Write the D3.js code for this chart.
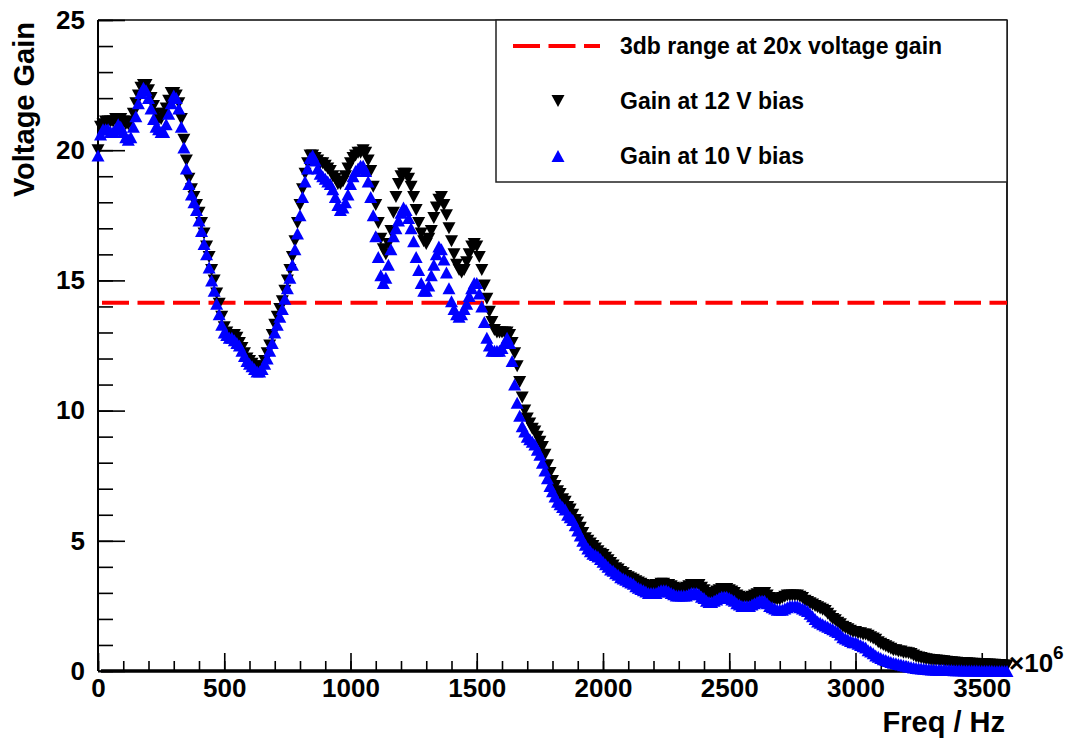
<!DOCTYPE html>
<html>
<head>
<meta charset="utf-8">
<script src="https://cdn.jsdelivr.net/npm/d3@7"></script>
<style>
  html, body { margin: 0; padding: 0; background: #fff; }
  svg { display: block; }
  text { font-family: "Liberation Sans", Arial, Helvetica, sans-serif; font-weight: bold; fill: #000; }
</style>
</head>
<body>
<svg id="chart" width="1075" height="740"></svg>
<script>
// Frequency sweep points (MHz, axis shown as ×10^6 Hz)
const freqMHz = [
  0, 10, 20, 30, 40, 50, 60, 70, 80, 90, 100, 110, 120, 130, 140, 150, 160, 170, 180, 190,
  200, 210, 220, 230, 240, 250, 260, 270, 280, 290, 300, 310, 320, 330, 340, 350, 360, 370, 380, 390,
  400, 410, 420, 430, 440, 450, 460, 470, 480, 490, 500, 510, 520, 530, 540, 550, 560, 570, 580, 590,
  600, 610, 620, 630, 640, 650, 660, 670, 680, 690, 700, 710, 720, 730, 740, 750, 760, 770, 780, 790,
  800, 810, 820, 830, 840, 850, 860, 870, 880, 890, 900, 910, 920, 930, 940, 950, 960, 970, 980, 990,
  1000, 1010, 1020, 1030, 1040, 1050, 1060, 1070, 1080, 1090, 1100, 1110, 1120, 1130, 1140, 1150, 1160, 1170, 1180, 1190,
  1200, 1210, 1220, 1230, 1240, 1250, 1260, 1270, 1280, 1290, 1300, 1310, 1320, 1330, 1340, 1350, 1360, 1370, 1380, 1390,
  1400, 1410, 1420, 1430, 1440, 1450, 1460, 1470, 1480, 1490, 1500, 1510, 1520, 1530, 1540, 1550, 1560, 1570, 1580, 1590,
  1600, 1610, 1620, 1630, 1640, 1650, 1660, 1670, 1680, 1690, 1700, 1710, 1720, 1730, 1740, 1750, 1760, 1770, 1780, 1790,
  1800, 1810, 1820, 1830, 1840, 1850, 1860, 1870, 1880, 1890, 1900, 1910, 1920, 1930, 1940, 1950, 1960, 1970, 1980, 1990,
  2000, 2010, 2020, 2030, 2040, 2050, 2060, 2070, 2080, 2090, 2100, 2110, 2120, 2130, 2140, 2150, 2160, 2170, 2180, 2190,
  2200, 2210, 2220, 2230, 2240, 2250, 2260, 2270, 2280, 2290, 2300, 2310, 2320, 2330, 2340, 2350, 2360, 2370, 2380, 2390,
  2400, 2410, 2420, 2430, 2440, 2450, 2460, 2470, 2480, 2490, 2500, 2510, 2520, 2530, 2540, 2550, 2560, 2570, 2580, 2590,
  2600, 2610, 2620, 2630, 2640, 2650, 2660, 2670, 2680, 2690, 2700, 2710, 2720, 2730, 2740, 2750, 2760, 2770, 2780, 2790,
  2800, 2810, 2820, 2830, 2840, 2850, 2860, 2870, 2880, 2890, 2900, 2910, 2920, 2930, 2940, 2950, 2960, 2970, 2980, 2990,
  3000, 3010, 3020, 3030, 3040, 3050, 3060, 3070, 3080, 3090, 3100, 3110, 3120, 3130, 3140, 3150, 3160, 3170, 3180, 3190,
  3200, 3210, 3220, 3230, 3240, 3250, 3260, 3270, 3280, 3290, 3300, 3310, 3320, 3330, 3340, 3350, 3360, 3370, 3380, 3390,
  3400, 3410, 3420, 3430, 3440, 3450, 3460, 3470, 3480, 3490, 3500, 3510, 3520, 3530, 3540, 3550, 3560, 3570, 3580, 3590,
  3600
];

// Voltage gain with 12 V bias
const gain12V = [
  20.0, 20.9, 21.0, 21.1, 21.1, 21.1, 21.1, 21.2, 21.2, 21.2, 21.1, 21.0, 21.0, 21.1, 21.4, 21.8, 22.1, 22.4, 22.5, 22.5,
  22.3, 22.0, 21.7, 21.4, 21.2, 21.2, 21.4, 21.6, 21.9, 22.2, 22.2, 22.1, 21.8, 21.2, 20.4, 19.6, 18.9, 18.5, 18.2, 17.9,
  17.6, 17.2, 16.8, 16.3, 15.9, 15.4, 15.0, 14.5, 14.1, 13.6, 13.2, 13.0, 12.9, 12.9, 12.9, 12.8, 12.6, 12.4, 12.2, 12.0,
  11.9, 11.8, 11.7, 11.6, 11.6, 11.7, 11.9, 12.2, 12.5, 12.9, 13.3, 13.6, 13.9, 14.2, 14.6, 15.0, 15.4, 15.9, 16.5, 17.2,
  17.9, 18.5, 19.1, 19.5, 19.8, 19.8, 19.7, 19.6, 19.5, 19.5, 19.4, 19.3, 19.2, 19.0, 18.9, 18.7, 18.7, 18.8, 19.0, 19.3,
  19.5, 19.7, 19.8, 19.9, 19.9, 20.0, 19.9, 19.6, 19.2, 18.6, 17.9, 17.2, 16.6, 16.2, 16.0, 16.4, 16.9, 17.6, 18.2, 18.7,
  19.0, 19.1, 19.1, 18.9, 18.6, 18.2, 17.7, 17.2, 16.8, 16.5, 16.4, 16.6, 16.9, 17.4, 17.8, 18.1, 18.2, 17.9, 17.5, 17.0,
  16.5, 16.0, 15.6, 15.4, 15.3, 15.4, 15.7, 16.0, 16.3, 16.4, 16.3, 15.9, 15.4, 14.8, 14.3, 13.8, 13.4, 13.1, 13.0, 13.0,
  13.0, 13.0, 13.0, 12.9, 12.6, 12.2, 11.7, 11.1, 10.5, 10.0, 9.7, 9.5, 9.3, 9.2, 9.0, 8.8, 8.6, 8.3, 7.9, 7.6,
  7.3, 7.1, 6.9, 6.8, 6.6, 6.5, 6.3, 6.2, 6.0, 5.8, 5.7, 5.5, 5.3, 5.1, 5.0, 4.9, 4.8, 4.7, 4.6, 4.5,
  4.45, 4.35, 4.25, 4.15, 4.05, 3.95, 3.9, 3.8, 3.75, 3.65, 3.6, 3.55, 3.5, 3.45, 3.4, 3.35, 3.3, 3.25, 3.25, 3.25,
  3.25, 3.3, 3.3, 3.35, 3.35, 3.3, 3.3, 3.25, 3.2, 3.15, 3.15, 3.15, 3.15, 3.2, 3.25, 3.3, 3.3, 3.3, 3.3, 3.2,
  3.1, 3.0, 2.95, 2.95, 3.0, 3.05, 3.1, 3.15, 3.15, 3.15, 3.1, 3.05, 3.0, 2.9, 2.85, 2.8, 2.8, 2.8, 2.8, 2.85,
  2.9, 2.95, 3.0, 3.0, 3.0, 2.9, 2.8, 2.75, 2.75, 2.75, 2.75, 2.8, 2.85, 2.9, 2.9, 2.9, 2.9, 2.9, 2.85, 2.8,
  2.7, 2.65, 2.6, 2.55, 2.5, 2.45, 2.4, 2.35, 2.3, 2.2, 2.1, 2.0, 1.95, 1.85, 1.8, 1.7, 1.65, 1.6, 1.55, 1.5,
  1.5, 1.45, 1.45, 1.4, 1.4, 1.35, 1.3, 1.25, 1.2, 1.1, 1.05, 1.0, 0.95, 0.9, 0.85, 0.8, 0.8, 0.75, 0.75, 0.7,
  0.7, 0.68, 0.65, 0.6, 0.55, 0.52, 0.5, 0.47, 0.45, 0.43, 0.42, 0.41, 0.4, 0.39, 0.38, 0.37, 0.36, 0.35, 0.34, 0.33,
  0.32, 0.31, 0.3, 0.3, 0.3, 0.29, 0.28, 0.28, 0.27, 0.27, 0.26, 0.26, 0.25, 0.25, 0.24, 0.24, 0.23, 0.23, 0.22, 0.21,
  0.2
];

// Voltage gain with 10 V bias
const gain10V = [
  19.8, 20.6, 20.8, 20.8, 20.8, 20.7, 20.7, 20.8, 21.0, 20.9, 20.7, 20.5, 20.4, 20.5, 20.9, 21.3, 21.8, 22.2, 22.4, 22.3,
  22.0, 21.6, 21.2, 20.9, 20.8, 20.7, 20.7, 21.0, 21.4, 21.8, 22.1, 22.0, 21.6, 20.9, 20.1, 19.3, 18.7, 18.3, 18.0, 17.7,
  17.3, 16.9, 16.4, 16.0, 15.5, 15.0, 14.6, 14.1, 13.7, 13.3, 13.0, 12.9, 12.8, 12.8, 12.7, 12.6, 12.5, 12.3, 12.1, 11.9,
  11.8, 11.7, 11.6, 11.5, 11.5, 11.6, 11.8, 12.0, 12.3, 12.6, 13.0, 13.3, 13.6, 13.9, 14.3, 14.7, 15.1, 15.6, 16.2, 16.8,
  17.5, 18.2, 18.8, 19.3, 19.7, 19.8, 19.6, 19.3, 19.1, 19.0, 18.9, 18.8, 18.7, 18.5, 18.2, 17.9, 17.7, 17.8, 18.0, 18.3,
  18.7, 19.0, 19.2, 19.3, 19.4, 19.4, 19.2, 18.8, 18.2, 17.5, 16.7, 15.9, 15.2, 14.9, 15.1, 15.6, 16.2, 16.7, 17.0, 17.3,
  17.6, 17.8, 17.7, 17.4, 17.0, 16.5, 15.9, 15.4, 14.9, 14.6, 14.6, 14.8, 15.2, 15.6, 16.0, 16.3, 16.2, 15.8, 15.3, 14.7,
  14.2, 13.9, 13.7, 13.6, 13.7, 13.9, 14.1, 14.4, 14.7, 14.9, 14.9, 14.5, 14.0, 13.4, 12.8, 12.5, 12.3, 12.3, 12.3, 12.3,
  12.4, 12.6, 12.8, 12.6, 11.9, 11.0, 10.3, 9.8, 9.4, 9.2, 9.0, 8.9, 8.8, 8.7, 8.5, 8.3, 8.0, 7.7, 7.4, 7.1,
  6.9, 6.7, 6.5, 6.4, 6.3, 6.2, 6.0, 5.9, 5.8, 5.6, 5.4, 5.2, 5.0, 4.85, 4.7, 4.6, 4.5, 4.45, 4.4, 4.3,
  4.2, 4.1, 4.0, 3.9, 3.85, 3.75, 3.7, 3.6, 3.55, 3.5, 3.45, 3.4, 3.35, 3.25, 3.2, 3.15, 3.1, 3.05, 3.0, 3.0,
  3.0, 3.0, 3.05, 3.1, 3.1, 3.1, 3.05, 3.0, 2.95, 2.9, 2.9, 2.9, 2.9, 2.9, 2.95, 3.0, 3.0, 3.0, 2.95, 2.85,
  2.8, 2.7, 2.65, 2.65, 2.7, 2.75, 2.8, 2.85, 2.85, 2.85, 2.8, 2.75, 2.7, 2.6, 2.55, 2.5, 2.5, 2.5, 2.5, 2.55,
  2.6, 2.65, 2.7, 2.7, 2.7, 2.6, 2.5, 2.45, 2.4, 2.35, 2.35, 2.35, 2.4, 2.45, 2.5, 2.5, 2.5, 2.5, 2.45, 2.4,
  2.35, 2.3, 2.2, 2.1, 2.0, 1.9, 1.85, 1.8, 1.75, 1.7, 1.65, 1.6, 1.55, 1.5, 1.4, 1.3, 1.25, 1.2, 1.15, 1.1,
  1.1, 1.05, 1.0, 0.95, 0.9, 0.8, 0.75, 0.68, 0.6, 0.55, 0.5, 0.45, 0.42, 0.38, 0.35, 0.32, 0.3, 0.27, 0.25, 0.22,
  0.2, 0.17, 0.15, 0.13, 0.12, 0.11, 0.1, 0.09, 0.08, 0.07, 0.06, 0.06, 0.05, 0.05, 0.05, 0.05, 0.04, 0.04, 0.04, 0.03,
  0.03, 0.03, 0.03, 0.02, 0.02, 0.02, 0.02, 0.02, 0.02, 0.01, 0.01, 0.01, 0.01, 0.01, 0.01, 0.0, 0.0, 0.0, 0.0, 0.0,
  0.0
];

// -3 dB level for a 20x voltage gain
const threshold3dB = 14.14;

const xTicksMajor = [0, 500, 1000, 1500, 2000, 2500, 3000, 3500];
const yTicksMajor = [0, 5, 10, 15, 20, 25];

const legendLabels = ["3db range at 20x voltage gain", "Gain at 12 V bias", "Gain at 10 V bias"];

// ---- layout ----
const frame = { left: 98, right: 1007, top: 20, bottom: 671 };

const svg = d3.select("#chart");

const x = d3.scaleLinear().domain([0, 3600]).range([frame.left, frame.right]);
const y = d3.scaleLinear().domain([0, 25]).range([frame.bottom, frame.top]);

// frame border (top and right)
svg.append("line")
  .attr("x1", frame.left).attr("x2", frame.right)
  .attr("y1", frame.top).attr("y2", frame.top)
  .attr("stroke", "#444").attr("stroke-width", 2);
svg.append("line")
  .attr("x1", frame.right).attr("x2", frame.right)
  .attr("y1", frame.top).attr("y2", frame.bottom)
  .attr("stroke", "#222").attr("stroke-width", 2);

// x axis: minor ticks every 100, major every 500, ticks pointing inward
const xMinor = d3.axisBottom(x).tickValues(d3.range(0, 3601, 100)).tickSize(-10).tickFormat("");
const xMajor = d3.axisBottom(x).tickValues(xTicksMajor).tickSize(-18).tickPadding(8).tickFormat(d3.format("d"));

const gx1 = svg.append("g").attr("transform", `translate(0,${frame.bottom})`).call(xMinor);
const gx2 = svg.append("g").attr("transform", `translate(0,${frame.bottom})`).call(xMajor);
[gx1, gx2].forEach(g => {
  g.select(".domain").remove();
  g.selectAll(".tick line").attr("stroke", "#000").attr("stroke-width", 1.6);
});
gx2.selectAll(".tick text").attr("font-size", 26).attr("font-weight", "bold")
  .attr("font-family", "Liberation Sans, Arial, sans-serif").attr("fill", "#000");

// y axis: minor ticks every 1, major every 5
const yMinor = d3.axisLeft(y).tickValues(d3.range(0, 26, 1)).tickSize(-15).tickFormat("");
const yMajor = d3.axisLeft(y).tickValues(yTicksMajor).tickSize(-27).tickPadding(13).tickFormat(d3.format("d"));

const gy1 = svg.append("g").attr("transform", `translate(${frame.left},0)`).call(yMinor);
const gy2 = svg.append("g").attr("transform", `translate(${frame.left},0)`).call(yMajor);
[gy1, gy2].forEach(g => {
  g.select(".domain").remove();
  g.selectAll(".tick line").attr("stroke", "#000").attr("stroke-width", 1.6);
});
gy2.selectAll(".tick text").attr("font-size", 26).attr("font-weight", "bold")
  .attr("font-family", "Liberation Sans, Arial, sans-serif").attr("fill", "#000");

// axis lines
svg.append("line")
  .attr("x1", frame.left).attr("x2", frame.left)
  .attr("y1", frame.top).attr("y2", frame.bottom)
  .attr("stroke", "#000").attr("stroke-width", 2);
svg.append("line")
  .attr("x1", frame.left).attr("x2", frame.right)
  .attr("y1", frame.bottom).attr("y2", frame.bottom)
  .attr("stroke", "#000").attr("stroke-width", 1.5);
// zero-gain baseline
svg.append("line")
  .attr("x1", x(12)).attr("x2", x(3575))
  .attr("y1", y(0)).attr("y2", y(0))
  .attr("stroke", "#000").attr("stroke-width", 3.5);

// axis titles
svg.append("text")
  .attr("x", frame.right - 2).attr("y", 732)
  .attr("text-anchor", "end").attr("font-size", 29)
  .text("Freq / Hz");

svg.append("text")
  .attr("transform", `translate(34,${frame.top + 2}) rotate(-90)`)
  .attr("text-anchor", "end").attr("font-size", 29)
  .text("Voltage Gain");

// exponent label
const expo = svg.append("text")
  .attr("x", frame.right + 2).attr("y", 672)
  .attr("font-size", 26).attr("font-weight", "normal");
expo.append("tspan").text("\u00d710");
expo.append("tspan").attr("font-size", 19).attr("dy", -13).text("6");

// 3 dB reference line
svg.append("line")
  .attr("x1", x(0)).attr("x2", x(3600))
  .attr("y1", y(threshold3dB)).attr("y2", y(threshold3dB))
  .attr("stroke", "#ff0000").attr("stroke-width", 4)
  .attr("stroke-dasharray", "27,8.5").attr("stroke-dashoffset", 31.5);

// triangle markers
const triW = 13, triH = 12;
const triUp = `M0,${-triH / 2}L${triW / 2},${triH / 2}L${-triW / 2},${triH / 2}Z`;
const triDown = `M0,${triH / 2}L${triW / 2},${-triH / 2}L${-triW / 2},${-triH / 2}Z`;

const pts12 = freqMHz.map((f, i) => ({ f, g: gain12V[i] }));
const pts10 = freqMHz.map((f, i) => ({ f, g: gain10V[i] }));

svg.append("g").selectAll("path").data(pts12).join("path")
  .attr("d", triDown)
  .attr("transform", d => `translate(${x(d.f)},${y(d.g)})`)
  .attr("fill", "#000");

svg.append("g").selectAll("path").data(pts10).join("path")
  .attr("d", triUp)
  .attr("transform", d => `translate(${x(d.f)},${y(d.g)})`)
  .attr("fill", "#0000ff");

// legend
const lg = svg.append("g");
lg.append("rect")
  .attr("x", 496).attr("y", frame.top)
  .attr("width", frame.right - 496).attr("height", 162)
  .attr("fill", "#fff").attr("stroke", "#222").attr("stroke-width", 1.5);

const rowY = [46, 101, 156];
lg.append("line")
  .attr("x1", 513).attr("x2", 600)
  .attr("y1", rowY[0]).attr("y2", rowY[0])
  .attr("stroke", "#ff0000").attr("stroke-width", 4)
  .attr("stroke-dasharray", "27,8.5");
lg.append("path").attr("d", triDown)
  .attr("transform", `translate(558,${rowY[1]})`).attr("fill", "#000");
lg.append("path").attr("d", triUp)
  .attr("transform", `translate(558,${rowY[2]})`).attr("fill", "#0000ff");

lg.selectAll("text.lab").data(legendLabels).join("text")
  .attr("class", "lab")
  .attr("x", 620)
  .attr("y", (d, i) => rowY[i] + 8)
  .attr("font-size", 23)
  .text(d => d);
</script>
</body>
</html>
